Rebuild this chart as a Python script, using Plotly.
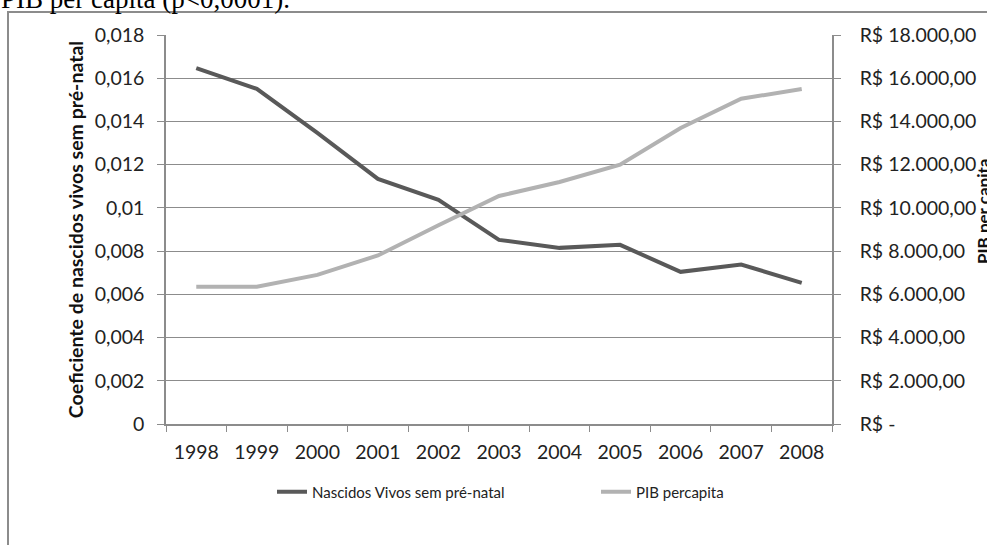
import plotly.graph_objects as go

years = ["1998", "1999", "2000", "2001", "2002", "2003", "2004", "2005", "2006", "2007", "2008"]
nascidos = [0.01647, 0.01551, 0.01347, 0.01134, 0.01037, 0.00852, 0.00815, 0.00829, 0.00704, 0.00738, 0.00653]
pib = [6350, 6350, 6900, 7800, 9200, 10550, 11200, 12000, 13700, 15050, 15500]

left_vals = [0, 0.002, 0.004, 0.006, 0.008, 0.010, 0.012, 0.014, 0.016, 0.018]
left_text = ["0", "0,002", "0,004", "0,006", "0,008", "0,01", "0,012", "0,014", "0,016", "0,018"]
right_vals = [0, 2000, 4000, 6000, 8000, 10000, 12000, 14000, 16000, 18000]
right_text = ["R$ -", "R$ 2.000,00", "R$ 4.000,00", "R$ 6.000,00", "R$ 8.000,00",
              "R$ 10.000,00", "R$ 12.000,00", "R$ 14.000,00", "R$ 16.000,00", "R$ 18.000,00"]

FONT = "Lato"
DARK = "#595959"
LIGHT = "#b2b2b2"
GRID = "#8c8c8c"
TXT = "#222222"

W, H = 987, 545
L, R, T, B = 166, 155, 35, 121
pw, ph = W - L - R, H - T - B


def px(x):
    return (x - L) / pw


def py(y):
    return 1 - (y - T) / ph


fig = go.Figure()
fig.add_trace(go.Scatter(x=years, y=nascidos, mode="lines", name="Nascidos Vivos sem pré-natal",
                         line=dict(color=DARK, width=4), legend="legend"))
fig.add_trace(go.Scatter(x=years, y=pib, mode="lines", name="PIB percapita", yaxis="y2",
                         line=dict(color=LIGHT, width=4), legend="legend2"))

leg_common = dict(orientation="h", yanchor="middle", font=dict(size=15, family=FONT, color=TXT),
                  bgcolor="rgba(0,0,0,0)", borderwidth=0)

fig.update_layout(
    width=W, height=H,
    margin=dict(l=L, r=R, t=T, b=B, autoexpand=False),
    paper_bgcolor="white", plot_bgcolor="white",
    font=dict(family=FONT, size=19.5, color=TXT),
    showlegend=True,
    legend=dict(x=px(272), xanchor="left", y=py(492), **leg_common),
    legend2=dict(x=px(596), xanchor="left", y=py(492), **leg_common),
    xaxis=dict(type="category", range=[-0.5, 10.5], tickson="boundaries", ticks="outside",
               ticklen=6, tickcolor=GRID, showline=True, linecolor=GRID, linewidth=1.5,
               showgrid=False, tickfont=dict(size=19.5, family=FONT, color=TXT), automargin=False,
               ticklabelstandoff=10),
    yaxis=dict(range=[0, 0.018], tickvals=left_vals, ticktext=left_text, ticks="outside",
               ticklen=7, tickcolor=GRID, showline=True, linecolor=GRID, linewidth=1.5,
               showgrid=True, gridcolor=GRID, gridwidth=1, zeroline=False, automargin=False,
               tickfont=dict(size=19.5, family=FONT, color=TXT), ticklabelstandoff=9,
               title=dict(text="<b>Coeficiente de nascidos vivos sem pré-natal</b>",
                          font=dict(size=19.5, family=FONT, color="#111111"), standoff=6)),
    yaxis2=dict(range=[0, 18000], overlaying="y", side="right", tickvals=right_vals,
                ticktext=right_text, ticks="outside", ticklen=7, tickcolor=GRID,
                showline=True, linecolor=GRID, linewidth=1.5, showgrid=False, zeroline=False,
                automargin=False, tickfont=dict(size=19.5, family=FONT, color=TXT),
                ticklabelstandoff=15),
    shapes=[dict(type="rect", xref="paper", yref="paper",
                 x0=px(8), x1=px(1100), y0=py(700), y1=py(12),
                 line=dict(color="#8c8c8c", width=2), fillcolor="rgba(0,0,0,0)", layer="below")],
    annotations=[
        dict(text="PIB per capita (p<0,0001).", xref="paper", yref="paper", x=px(-1), y=py(16),
             xanchor="left", yanchor="bottom", showarrow=False,
             font=dict(family="Liberation Serif", size=27, color="#000000")),
        dict(text="<b>PIB per capita</b>", xref="paper", yref="paper", x=px(983), y=py(211),
             xanchor="center", yanchor="middle", textangle=-90, showarrow=False,
             font=dict(family=FONT, size=17, color="#111111")),
    ],
)

fig.write_html("out.html", config={"displayModeBar": False},
               post_script="document.body.style.margin='0';document.body.style.overflow='hidden';")
